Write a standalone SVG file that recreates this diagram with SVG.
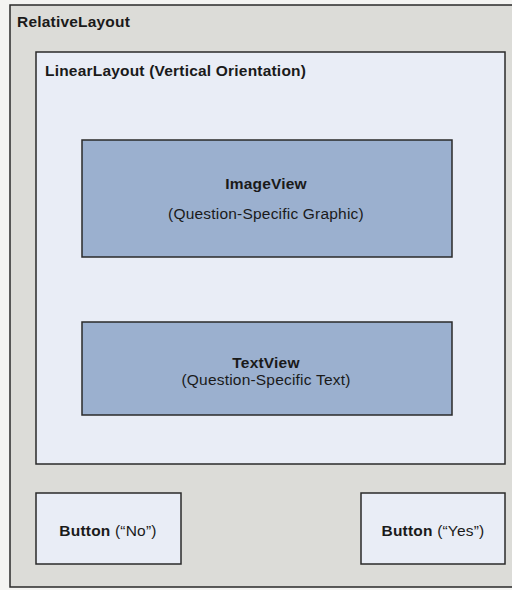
<svg xmlns="http://www.w3.org/2000/svg" width="512" height="590" viewBox="0 0 512 590">
<style>
text{font-family:"Liberation Sans",Arial,sans-serif;fill:#1a1a1a;font-size:15.5px;letter-spacing:0.2px}
.b{font-weight:bold}
.box{stroke:#2a2a2a;stroke-width:1.5}
.light{fill:#e9edf6}
.view{fill:#9bb0cf}
</style>
<rect x="0" y="0" width="512" height="590" fill="#f4f4f2"/>
<g id="relativeLayout">
<rect x="10" y="5" width="510" height="582" fill="#dcdcd8" stroke="#2a2a2a" stroke-width="1.5"/>
<text class="b" x="17" y="27">RelativeLayout</text>
</g>
<g id="linearLayout">
<rect class="box light" x="36" y="52" width="469" height="412"/>
<text class="b" x="45" y="76">LinearLayout (Vertical Orientation)</text>
</g>
<g id="imageView">
<rect class="box view" x="82" y="140" width="370" height="117"/>
<text class="b" x="266" y="189" text-anchor="middle">ImageView</text>
<text x="266" y="219" text-anchor="middle">(Question-Specific Graphic)</text>
</g>
<g id="textView">
<rect class="box view" x="82" y="322" width="370" height="93"/>
<text class="b" x="266" y="368" text-anchor="middle">TextView</text>
<text x="266" y="385" text-anchor="middle">(Question-Specific Text)</text>
</g>
<g id="buttonNo">
<rect class="box light" x="36" y="493" width="145" height="71"/>
<text x="108" y="536" text-anchor="middle"><tspan class="b">Button</tspan> (“No”)</text>
</g>
<g id="buttonYes">
<rect class="box light" x="361" y="493" width="144" height="71"/>
<text x="433" y="536" text-anchor="middle"><tspan class="b">Button</tspan> (“Yes”)</text>
</g>
<g id="connectors"/>
</svg>
